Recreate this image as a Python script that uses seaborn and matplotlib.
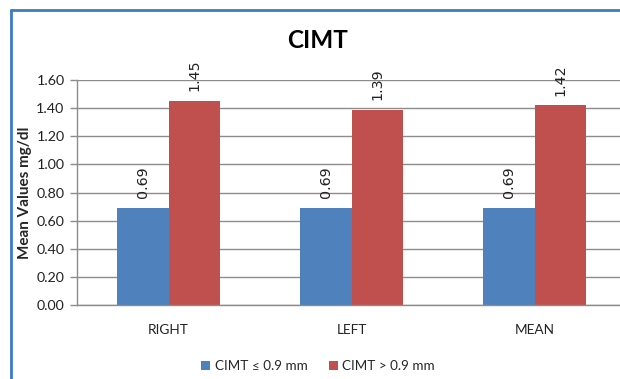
import matplotlib
matplotlib.use("Agg")
import matplotlib.pyplot as plt
from matplotlib.lines import Line2D
from matplotlib.patches import Patch
import seaborn as sns
import pandas as pd

categories = ["RIGHT", "LEFT", "MEAN"]
series_names = ["CIMT \u2264 0.9 mm", "CIMT > 0.9 mm"]
low_values = [0.69, 0.69, 0.69]
high_values = [1.45, 1.39, 1.42]
y_ticks = [0.0, 0.2, 0.4, 0.6, 0.8, 1.0, 1.2, 1.4, 1.6]
colors = ["#4F81BD", "#C0504D"]

df = pd.DataFrame({
    "site": categories * 2,
    "group": [series_names[0]] * 3 + [series_names[1]] * 3,
    "value": low_values + high_values,
})

sns.set_style("white")
plt.rcParams["font.family"] = ["Lato", "DejaVu Sans"]

W, H = 620, 379
fig = plt.figure(figsize=(W / 100, H / 100), dpi=100)
ax = fig.add_axes([77 / W, 1 - 305 / H, (626 - 77) / W, (305 - 80) / H])

sns.barplot(data=df, x="site", y="value", hue="group", palette=colors,
            width=0.56, gap=0, saturation=1, ax=ax, legend=False,
            edgecolor="none", linewidth=0)

ax.set_xlim(-0.5, 2.5)
ax.set_ylim(0, 1.6)
ax.set_yticks(y_ticks)
ax.set_yticklabels([f"{v:.2f}" for v in y_ticks], fontsize=10.3, color="#222222")
ax.yaxis.grid(True, color="#8c8c8c", linewidth=1)
ax.set_axisbelow(True)

ax.set_xticks(range(len(categories)))
ax.set_xticklabels(categories, fontsize=9.8, color="#222222")
ax.set_xticks([-0.5, 0.5, 1.5, 2.5], minor=True)
ax.tick_params(axis="x", which="major", length=0, pad=14)
ax.tick_params(axis="x", which="minor", length=5, color="#8c8c8c", width=1)
ax.tick_params(axis="y", which="major", length=5, color="#8c8c8c", width=1,
               left=True, pad=4)

for side in ["top", "right"]:
    ax.spines[side].set_visible(False)
for side in ["left", "bottom"]:
    ax.spines[side].set_color("#8c8c8c")
    ax.spines[side].set_linewidth(1)

ax.set_xlabel("")
ax.set_ylabel("Mean Values mg/dl", fontsize=11, fontweight="bold")
ax.yaxis.set_label_coords(-0.082, 0.5)

for container in ax.containers:
    for bar in container:
        h = bar.get_height()
        ax.annotate(f"{h:.2f}", (bar.get_x() + bar.get_width() / 2, h),
                    xytext=(0, 7), textcoords="offset points",
                    rotation=90, ha="center", va="bottom",
                    fontsize=10.3, family="DejaVu Sans", color="#222222")

fig.text(318 / W, 1 - 40 / H, "CIMT", ha="center", va="center",
         fontsize=17.5, fontweight="bold", color="black")

handles = [Patch(facecolor=c, edgecolor="none") for c in colors]
fig.legend(handles, series_names, loc="center", bbox_to_anchor=(318 / W, 1 - 366 / H),
           ncol=2, frameon=False, fontsize=9.7, handlelength=0.7,
           handleheight=0.7, handletextpad=0.3, columnspacing=1.6)

# chart frame
fig.add_artist(Line2D([11 / W, 11 / W], [0, 1 - 10 / H], color="#3C7CC4",
                      linewidth=2, transform=fig.transFigure))
fig.add_artist(Line2D([11 / W, 1.0], [1 - 10 / H, 1 - 10 / H], color="#3C7CC4",
                      linewidth=2, transform=fig.transFigure))

fig.savefig("out.png", dpi=100)
